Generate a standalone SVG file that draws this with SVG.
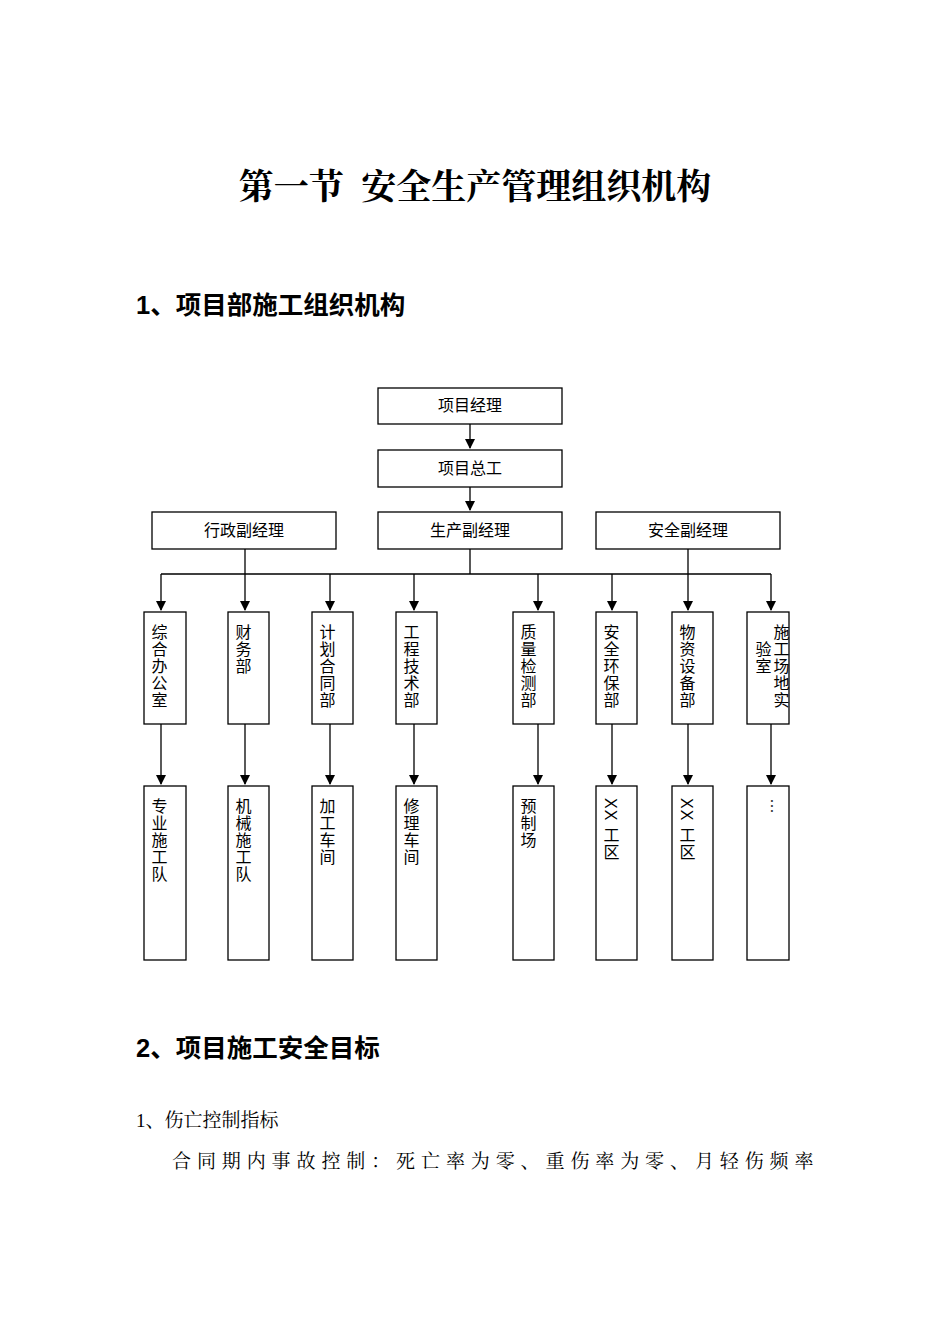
<svg xmlns="http://www.w3.org/2000/svg" width="950" height="1344" viewBox="0 0 950 1344">
<style>
.b{fill:#fff;stroke:#000;stroke-width:1.3}
.t{font-family:"Liberation Sans","Noto Sans CJK SC",sans-serif;font-size:16px;fill:#000}
.h{text-anchor:middle}
.v{writing-mode:vertical-rl;letter-spacing:1px}
.c{stroke:#000;stroke-width:1.3;fill:none}
.s{font-family:"Liberation Serif","Noto Serif CJK SC","Noto Sans CJK SC",serif;fill:#000}
.g{font-family:"Liberation Sans","Noto Sans CJK SC",sans-serif;fill:#000;font-weight:bold}
</style>
<defs><marker id="a" markerWidth="10" markerHeight="10" refX="9" refY="5" orient="auto" markerUnits="userSpaceOnUse"><path d="M0,0 L10,5 L0,10 z" fill="#000"/></marker></defs>
<text class="s" x="475" y="199" text-anchor="middle" font-size="35" font-weight="bold" xml:space="preserve">第一节  安全生产管理组织机构</text>
<text class="g" x="136" y="314" font-size="25.5">1、项目部施工组织机构</text>
<text class="g" x="136" y="1057" font-size="25.5">2、项目施工安全目标</text>
<text class="s" x="136" y="1127" font-size="19">1、伤亡控制指标</text>
<text class="s" x="172" y="1168" font-size="19" letter-spacing="5.9">合同期内事故控制：死亡率为零、重伤率为零、月轻伤频率</text>
<g id="connectors">
<path class="c" d="M470,424 V448" marker-end="url(#a)"/>
<path class="c" d="M470,487 V510" marker-end="url(#a)"/>
<path class="c" d="M470,549 V574 M161,574 H771"/>
<path class="c" d="M245,549 V610" marker-end="url(#a)"/>
<path class="c" d="M688,549 V610" marker-end="url(#a)"/>
<path class="c" d="M161,574 V610" marker-end="url(#a)"/>
<path class="c" d="M330,574 V610" marker-end="url(#a)"/>
<path class="c" d="M414,574 V610" marker-end="url(#a)"/>
<path class="c" d="M538,574 V610" marker-end="url(#a)"/>
<path class="c" d="M612,574 V610" marker-end="url(#a)"/>
<path class="c" d="M771,574 V610" marker-end="url(#a)"/>
<path class="c" d="M161,724 V784" marker-end="url(#a)"/>
<path class="c" d="M245,724 V784" marker-end="url(#a)"/>
<path class="c" d="M330,724 V784" marker-end="url(#a)"/>
<path class="c" d="M414,724 V784" marker-end="url(#a)"/>
<path class="c" d="M538,724 V784" marker-end="url(#a)"/>
<path class="c" d="M612,724 V784" marker-end="url(#a)"/>
<path class="c" d="M688,724 V784" marker-end="url(#a)"/>
<path class="c" d="M771,724 V784" marker-end="url(#a)"/>
</g>
<g id="n1"><rect class="b" x="378" y="388" width="184" height="36"/><text class="t h" x="470" y="411">项目经理</text></g>
<g id="n2"><rect class="b" x="378" y="450" width="184" height="37"/><text class="t h" x="470" y="474">项目总工</text></g>
<g id="n3"><rect class="b" x="152" y="512" width="184" height="37"/><text class="t h" x="244" y="536">行政副经理</text></g>
<g id="n4"><rect class="b" x="378" y="512" width="184" height="37"/><text class="t h" x="470" y="536">生产副经理</text></g>
<g id="n5"><rect class="b" x="596" y="512" width="184" height="37"/><text class="t h" x="688" y="536">安全副经理</text></g>
<g id="d1"><rect class="b" x="144" y="612" width="42" height="112"/><text class="t v" x="158" y="624">综合办公室</text></g>
<g id="d2"><rect class="b" x="228" y="612" width="41" height="112"/><text class="t v" x="242" y="624">财务部</text></g>
<g id="d3"><rect class="b" x="312" y="612" width="41" height="112"/><text class="t v" x="326" y="624">计划合同部</text></g>
<g id="d4"><rect class="b" x="396" y="612" width="41" height="112"/><text class="t v" x="410" y="624">工程技术部</text></g>
<g id="d5"><rect class="b" x="513" y="612" width="41" height="112"/><text class="t v" x="527" y="624">质量检测部</text></g>
<g id="d6"><rect class="b" x="596" y="612" width="41" height="112"/><text class="t v" x="610" y="624">安全环保部</text></g>
<g id="d7"><rect class="b" x="672" y="612" width="41" height="112"/><text class="t v" x="686" y="624">物资设备部</text></g>
<g id="d8"><rect class="b" x="747" y="612" width="42" height="112"/><text class="t v" x="780" y="624">施工场地实</text><text class="t v" x="762" y="641">验室</text></g>
<g id="e1"><rect class="b" x="144" y="786" width="42" height="174"/><text class="t v" x="158" y="798">专业施工队</text></g>
<g id="e2"><rect class="b" x="228" y="786" width="41" height="174"/><text class="t v" x="242" y="798">机械施工队</text></g>
<g id="e3"><rect class="b" x="312" y="786" width="41" height="174"/><text class="t v" x="326" y="798">加工车间</text></g>
<g id="e4"><rect class="b" x="396" y="786" width="41" height="174"/><text class="t v" x="410" y="798">修理车间</text></g>
<g id="e5"><rect class="b" x="513" y="786" width="41" height="174"/><text class="t v" x="527" y="798">预制场</text></g>
<g id="e6"><rect class="b" x="596" y="786" width="41" height="174"/><text class="t v" x="610" y="798">XX 工区</text></g>
<g id="e7"><rect class="b" x="672" y="786" width="41" height="174"/><text class="t v" x="686" y="798">XX 工区</text></g>
<g id="e8"><rect class="b" x="747" y="786" width="42" height="174"/><text class="t v" x="776" y="798">…</text></g>
</svg>
